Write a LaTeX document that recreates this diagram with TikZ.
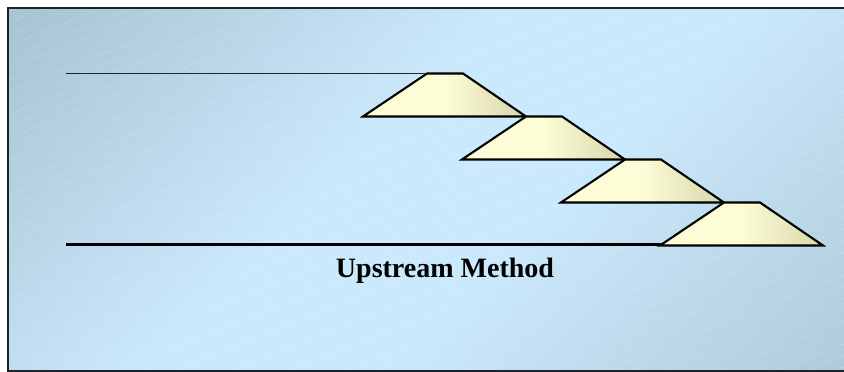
\documentclass[tikz,border=0pt]{standalone}
\usepackage{fontspec}
\setmainfont{Liberation Serif}
\definecolor{bgdark}{RGB}{168,197,212}
\definecolor{bglight}{RGB}{203,233,252}
\definecolor{bgmid}{RGB}{174,202,218}
\definecolor{trapA}{RGB}{252,252,214}
\definecolor{trapB}{RGB}{216,214,170}
\definecolor{framecol}{RGB}{30,34,38}
\pgfdeclarehorizontalshading{bgshade}{100bp}{color(0bp)=(bgdark); color(16bp)=(bgdark); color(44bp)=(bglight); color(58bp)=(bglight); color(86bp)=(bgmid); color(100bp)=(bgmid)}
\tikzset{
  trapezoid/.style={draw=black, line width=2.1pt, line join=miter, left color=trapA, right color=trapB, middle color=trapA},
  thinline/.style={draw=black!85, line width=1.5pt},
  thickline/.style={draw=black, line width=3pt},
  hatch/.style={draw=white, opacity=0.3, line width=0.5pt, dash pattern=on 1.5pt off 1.2pt},
  titletext/.style={font=\bfseries\fontsize{28}{30}\selectfont, anchor=base, inner sep=0pt}
}
\begin{document}
\begin{tikzpicture}[x=1pt,y=-1pt]
\useasboundingbox (0,0) rectangle (844,372);
\fill[white] (0,0) rectangle (844,372);
% background panel
\shade[shading=bgshade, shading angle=-45] (8,7) rectangle (850,372);
\begin{scope}
\clip (8,7) rectangle (850,372);
\foreach \k in {0,...,64} {
  \draw[hatch] (8,{\k*11.5}) -- (850,{\k*11.5-0.4*842});
}
\end{scope}
\draw[draw=framecol, line width=2pt] (8,380) -- (8,7.5) -- (850,7.5);
\draw[draw=framecol, line width=1.5pt] (8,370.8) -- (850,370.8);
% trapezoids
\foreach \i in {0,1,2,3} {
  \pgfmathsetmacro{\tx}{427+99*\i}
  \pgfmathsetmacro{\ty}{73.5+43*\i}
  \path[trapezoid] (\tx,\ty) -- ({\tx+36},\ty) -- ({\tx+99},{\ty+43}) -- ({\tx-64},{\ty+43}) -- cycle;
}
\coordinate (topstart) at (66,73.5);
\coordinate (topend) at (427,73.5);
\coordinate (basestart) at (66,244.5);
\coordinate (baseend) at (664,244.5);
\draw[thinline] (topstart) -- (topend);
\draw[thickline] (basestart) -- (baseend);
\node[titletext] (title) at (445,277) {Upstream Method};
\end{tikzpicture}
\end{document}
